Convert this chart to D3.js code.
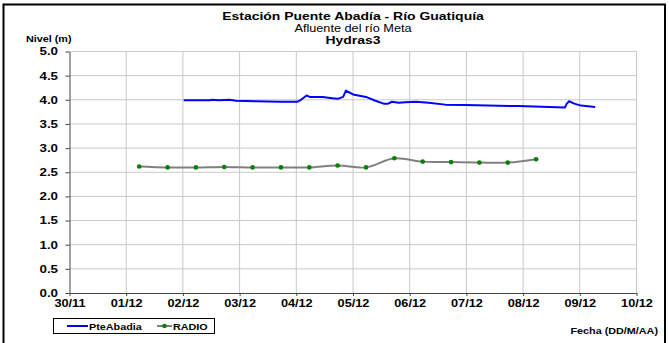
<!DOCTYPE html>
<html><head><meta charset="utf-8">
<script src="https://cdn.jsdelivr.net/npm/d3@7"></script>
<style>
html,body{margin:0;padding:0;background:#fff;}
svg{display:block;font-family:"Liberation Sans",Arial,sans-serif;}
</style></head>
<body><div id="chart"></div>
<script>
// ---- data ----
const titleLines = ["Estación Puente Abadía  - Río Guatiquía", "Afluente del río Meta", "Hydras3"];
const yTicks = [0, 0.5, 1, 1.5, 2, 2.5, 3, 3.5, 4, 4.5, 5];
const xTickDates = ["2010-11-30","2010-12-01","2010-12-02","2010-12-03","2010-12-04","2010-12-05","2010-12-06","2010-12-07","2010-12-08","2010-12-09","2010-12-10"];
const pteTimes = ["2010-12-02T00:20","2010-12-02T11:15","2010-12-02T12:30","2010-12-02T15:20","2010-12-02T19:40","2010-12-02T22:30","2010-12-03T07:00","2010-12-03T17:00","2010-12-03T21:00","2010-12-04T00:30","2010-12-04T02:00","2010-12-04T04:20","2010-12-04T05:40","2010-12-04T11:00","2010-12-04T15:20","2010-12-04T17:30","2010-12-04T19:50","2010-12-04T21:00","2010-12-05T00:00","2010-12-05T05:30","2010-12-05T09:30","2010-12-05T13:00","2010-12-05T14:50","2010-12-05T16:30","2010-12-05T19:20","2010-12-05T22:10","2010-12-06T02:30","2010-12-06T08:00","2010-12-06T15:00","2010-12-06T23:30","2010-12-07T22:00","2010-12-08T17:40","2010-12-08T18:30","2010-12-08T19:30","2010-12-08T21:40","2010-12-09T00:30","2010-12-09T06:30"];
const pteValues = [3.99,3.99,4.00,3.99,4.00,3.98,3.97,3.96,3.96,3.96,4.00,4.09,4.06,4.06,4.03,4.02,4.06,4.19,4.11,4.06,3.98,3.92,3.92,3.96,3.94,3.95,3.96,3.94,3.90,3.89,3.87,3.84,3.92,3.97,3.92,3.88,3.85];
const radioTimes = ["2010-12-01T05:30","2010-12-01T17:30","2010-12-02T05:30","2010-12-02T17:30","2010-12-03T05:30","2010-12-03T17:30","2010-12-04T05:30","2010-12-04T17:30","2010-12-05T05:30","2010-12-05T17:30","2010-12-06T05:30","2010-12-06T17:30","2010-12-07T05:30","2010-12-07T17:30","2010-12-08T05:30"];
const radioValues = [2.62,2.60,2.60,2.61,2.60,2.60,2.60,2.64,2.60,2.79,2.72,2.71,2.70,2.70,2.77];
const seriesNames = ["PteAbadia","RADIO"];

// ---- chart ----
const W = 669, H = 343;
const SX = 1.27; // horizontal stretch of text as in reference
const FONT = "Liberation Sans, Arial, sans-serif";
const parse = d3.isoParse;
const svg = d3.select("#chart").append("svg").attr("width", W).attr("height", H);

function label(px, py, str, size, bold, anchor) {
  const g = svg.append("g").attr("transform", `translate(${px},${py}) scale(${SX},1)`);
  g.append("text").attr("text-anchor", anchor || "start").attr("font-size", size)
    .attr("font-weight", bold ? "bold" : "normal").attr("font-family", FONT).attr("fill", "#000").text(str);
  return g;
}

// outer frame
svg.append("rect").attr("x", 3.5).attr("y", 4.5).attr("width", 661.5).attr("height", 345)
  .attr("fill", "none").attr("stroke", "#000").attr("stroke-width", 2);

const x = d3.scaleTime().domain([parse(xTickDates[0]), parse(xTickDates[xTickDates.length-1])]).range([69.5, 636.5]);
const y = d3.scaleLinear().domain([0, 5]).range([293, 51.5]);

// gridlines
const grid = svg.append("g");
grid.selectAll(".vg").data(xTickDates.slice(1)).join("line")
  .attr("x1", d => x(parse(d))).attr("x2", d => x(parse(d)))
  .attr("y1", y(0)).attr("y2", y(5)).attr("stroke", "#c8c8c8").attr("stroke-width", 1);
grid.selectAll(".hg").data(yTicks.slice(1)).join("line")
  .attr("x1", x.range()[0]).attr("x2", x.range()[1])
  .attr("y1", d => y(d)).attr("y2", d => y(d)).attr("stroke", "#c8c8c8").attr("stroke-width", 1);

// y axis
const yAxis = svg.append("g").attr("transform", `translate(${x.range()[0]},0)`)
  .call(d3.axisLeft(y).tickValues(yTicks).tickFormat(d3.format(".1f")).tickSize(4).tickSizeOuter(0));
yAxis.select(".domain").attr("stroke", "#444");
yAxis.selectAll(".tick line").attr("stroke", "#444");
yAxis.selectAll("text").attr("font-size", 10.5).attr("font-weight", "bold").attr("fill", "#000")
  .attr("font-family", FONT).attr("x", -11.5 / SX).attr("transform", `scale(${SX},1)`);

// x axis
const xAxis = svg.append("g").attr("transform", `translate(0,${y(0)})`)
  .call(d3.axisBottom(x).tickValues(xTickDates.map(parse)).tickFormat(d3.timeFormat("%d/%m")).tickSize(3).tickSizeOuter(0));
xAxis.select(".domain").attr("stroke", "#444");
xAxis.selectAll(".tick line").attr("stroke", "#444");
xAxis.selectAll("text").attr("font-size", 10).attr("font-weight", "bold").attr("fill", "#000")
  .attr("font-family", FONT).attr("dy", "0.8em").attr("transform", `scale(${SX},1)`);

// series
const pteData = pteTimes.map((t, i) => ({ t: parse(t), v: pteValues[i] }));
const radioData = radioTimes.map((t, i) => ({ t: parse(t), v: radioValues[i] }));

svg.append("path").datum(pteData)
  .attr("d", d3.line().x(d => x(d.t)).y(d => y(d.v)))
  .attr("fill", "none").attr("stroke", "#0000ff").attr("stroke-width", 2).attr("stroke-linejoin", "round");

svg.append("path").datum(radioData)
  .attr("d", d3.line().x(d => x(d.t)).y(d => y(d.v)).curve(d3.curveCatmullRom.alpha(0.5)))
  .attr("fill", "none").attr("stroke", "#808080").attr("stroke-width", 2);
svg.selectAll(".rdot").data(radioData).join("circle")
  .attr("cx", d => x(d.t)).attr("cy", d => y(d.v)).attr("r", 2.3).attr("fill", "#008000");

// titles
const cx = (x.range()[0] + x.range()[1]) / 2;
label(cx, 20, titleLines[0], 11, true, "middle");
label(cx, 31.5, titleLines[1], 10, false, "middle");
label(cx, 44, titleLines[2], 11, true, "middle");
label(26, 42, "Nivel (m)", 8.5, true, "start");
label(658, 334, "Fecha (DD/M/AA)", 8.5, true, "end");

// legend
svg.append("rect").attr("x", 53.5).attr("y", 318.5).attr("width", 161).attr("height", 15)
  .attr("fill", "#fff").attr("stroke", "#000").attr("stroke-width", 1);
svg.append("line").attr("x1", 67).attr("x2", 88).attr("y1", 326).attr("y2", 326).attr("stroke", "#0000ff").attr("stroke-width", 2);
label(89, 329.5, seriesNames[0], 8.5, true, "start");
svg.append("line").attr("x1", 157).attr("x2", 172).attr("y1", 326).attr("y2", 326).attr("stroke", "#808080").attr("stroke-width", 2);
svg.append("circle").attr("cx", 164.5).attr("cy", 326).attr("r", 2.3).attr("fill", "#008000");
label(173, 329.5, seriesNames[1], 8.5, true, "start");
</script></body></html>
